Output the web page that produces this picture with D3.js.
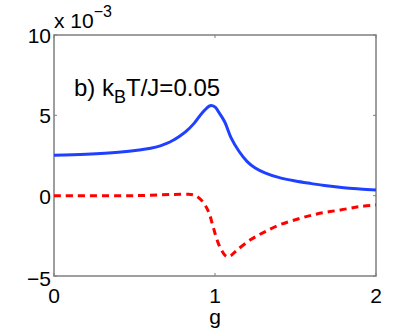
<!DOCTYPE html>
<html>
<head>
<meta charset="utf-8">
<script src="https://cdn.jsdelivr.net/npm/d3@7"></script>
<style>
  body { margin: 0; background: #fff; }
  svg { display: block; font-family: "Liberation Sans", Arial, sans-serif; }
</style>
</head>
<body>
<svg width="415" height="330"></svg>
<script>
// values in units of 1e-3
var gBlue = [0, 0.2, 0.4, 0.53, 0.6, 0.66, 0.7, 0.74, 0.78, 0.82, 0.87, 0.92, 0.97, 1.0, 1.02, 1.06, 1.1, 1.15, 1.2, 1.25, 1.31, 1.4, 1.5, 1.6, 1.68, 1.8, 1.9, 2.0];
var blueVals = [2.51, 2.58, 2.7, 2.84, 2.95, 3.1, 3.25, 3.45, 3.7, 4.0, 4.5, 5.15, 5.6, 5.52, 5.25, 4.6, 3.6, 2.75, 2.12, 1.72, 1.42, 1.12, 0.91, 0.75, 0.63, 0.5, 0.42, 0.35];
var gRed = [0, 0.5, 0.8, 0.87, 0.92, 0.96, 0.99, 1.02, 1.05, 1.075, 1.1, 1.135, 1.22, 1.3, 1.4, 1.53, 1.65, 1.78, 1.9, 2.0];
var redVals = [0, 0, 0.08, 0.04, -0.33, -1.0, -2.0, -2.95, -3.55, -3.8, -3.72, -3.4, -2.75, -2.3, -1.82, -1.41, -1.1, -0.89, -0.68, -0.58];
var xTicks = [0, 1, 2];
var yTicks = [-5, 0, 5, 10];

var svg = d3.select("svg");
var margin = {left: 54, top: 35, right: 39, bottom: 54};
var width = 415 - margin.left - margin.right,
    height = 330 - margin.top - margin.bottom;

var x = d3.scaleLinear().domain([0, 2]).range([0, width]);
var y = d3.scaleLinear().domain([-5, 10]).range([height, 0]);

var g = svg.append("g").attr("transform", "translate(" + margin.left + "," + margin.top + ")");

var axisColor = "#7f7f7f";

// box
g.append("rect")
    .attr("x", 0).attr("y", 0)
    .attr("width", width).attr("height", height)
    .attr("fill", "none").attr("stroke", axisColor).attr("stroke-width", 1.5);

// inner ticks
xTicks.forEach(function(t) {
    g.append("line").attr("x1", x(t)).attr("x2", x(t)).attr("y1", height).attr("y2", height - 3)
        .attr("stroke", axisColor);
    g.append("line").attr("x1", x(t)).attr("x2", x(t)).attr("y1", 0).attr("y2", 3)
        .attr("stroke", axisColor);
});
yTicks.forEach(function(t) {
    g.append("line").attr("x1", 0).attr("x2", 3).attr("y1", y(t)).attr("y2", y(t))
        .attr("stroke", axisColor);
    g.append("line").attr("x1", width).attr("x2", width - 3).attr("y1", y(t)).attr("y2", y(t))
        .attr("stroke", axisColor);
});

// tick labels
g.selectAll(".xt").data(xTicks).enter().append("text")
    .attr("x", function(d) { return x(d); })
    .attr("y", height + 27)
    .attr("text-anchor", "middle")
    .attr("font-size", 21)
    .text(function(d) { return d; });

g.selectAll(".yt").data(yTicks).enter().append("text")
    .attr("x", -3)
    .attr("y", function(d) { return y(d) + (d < 0 ? 10 : 8); })
    .attr("text-anchor", "end")
    .attr("font-size", 21)
    .text(function(d) { return d < 0 ? "\u2212" + (-d) : d; });

// exponent
var ex = svg.append("text").attr("x", 54).attr("y", 28).attr("font-size", 21);
ex.append("tspan").text("x 10");
ex.append("tspan").attr("dy", -11).attr("font-size", 16).text("\u22123");

// x label
svg.append("text")
    .attr("x", x(1) + margin.left)
    .attr("y", 324)
    .attr("text-anchor", "middle")
    .attr("font-size", 21)
    .text("g");

// annotation
var ann = svg.append("text").attr("x", 74).attr("y", 96).attr("font-size", 24);
ann.append("tspan").text("b) k");
ann.append("tspan").attr("dy", 7).attr("font-size", 18).text("B");
ann.append("tspan").attr("dy", -7).text("T/J=0.05");

var line = d3.line()
    .x(function(d) { return x(d[0]); })
    .y(function(d) { return y(d[1]); })
    .curve(d3.curveCatmullRom);

g.append("path")
    .datum(d3.zip(gBlue, blueVals))
    .attr("d", line)
    .attr("fill", "none")
    .attr("stroke", "#2040ff")
    .attr("stroke-width", 3);

g.append("path")
    .datum(d3.zip(gRed, redVals))
    .attr("d", line)
    .attr("fill", "none")
    .attr("stroke", "#ff0000")
    .attr("stroke-width", 3)
    .attr("stroke-dasharray", "7,5");
</script>
</body>
</html>
